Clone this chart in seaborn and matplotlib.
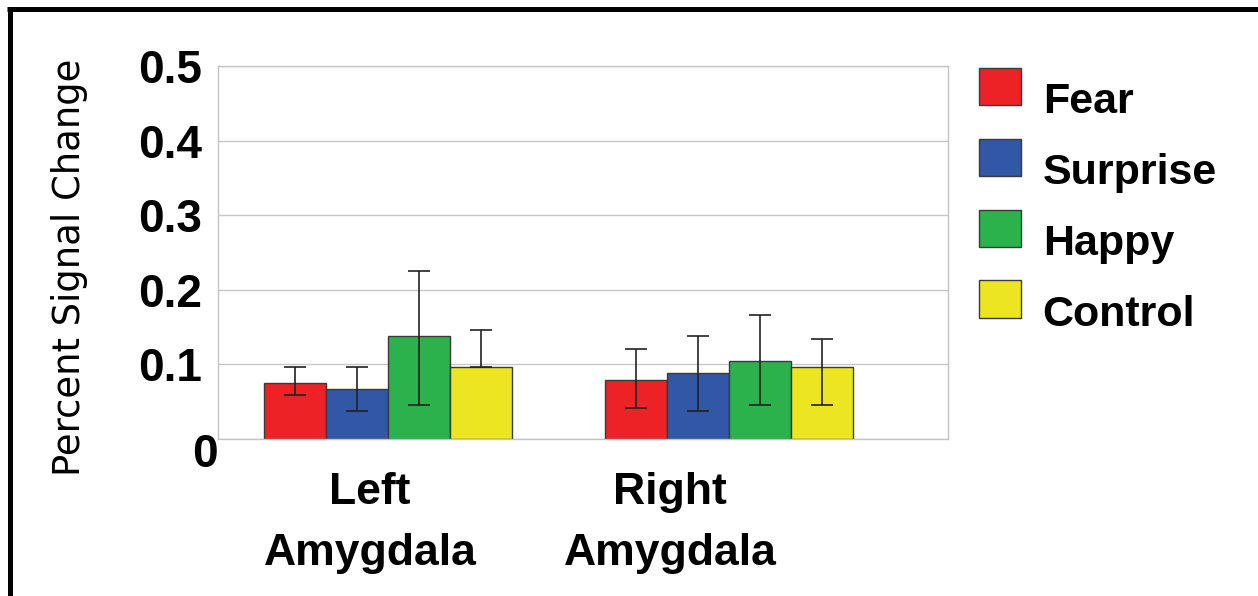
import matplotlib
matplotlib.use("Agg")
import matplotlib.pyplot as plt
import seaborn as sns
import pandas as pd
from matplotlib import font_manager
from matplotlib.lines import Line2D
from matplotlib.patches import Rectangle
from matplotlib.legend_handler import HandlerPatch
from matplotlib.transforms import ScaledTranslation

# ---- data -------------------------------------------------------------
regions = ["Left\nAmygdala", "Right\nAmygdala"]
conditions = ["Fear", "Surprise", "Happy", "Control"]

left_means = [0.075, 0.067, 0.138, 0.096]
right_means = [0.079, 0.088, 0.104, 0.096]

# error extents below / above each mean
left_err_low = [0.016, 0.029, 0.092, 0.0]
left_err_high = [0.021, 0.029, 0.087, 0.050]
right_err_low = [0.037, 0.050, 0.059, 0.050]
right_err_high = [0.041, 0.050, 0.062, 0.038]

y_ticks = [0, 0.1, 0.2, 0.3, 0.4, 0.5]
y_tick_labels = ["0", "0.1", "0.2", "0.3", "0.4", "0.5"]

colors = ["#ec2227", "#3157a6", "#2bb24c", "#ebe621"]

# ---- fonts ------------------------------------------------------------
def pick(families):
    for fam in families:
        try:
            font_manager.findfont(font_manager.FontProperties(family=fam),
                                  fallback_to_default=False)
            return fam
        except Exception:
            continue
    return "DejaVu Sans"

narrow = pick(["Liberation Sans Narrow", "Liberation Sans"])
sans = pick(["Liberation Sans", "DejaVu Sans"])

sns.set_theme(style="white")
plt.rcParams["font.family"] = [sans, "DejaVu Sans"]
for key in ("text.color", "axes.labelcolor", "xtick.color", "ytick.color"):
    plt.rcParams[key] = "black"

# ---- frame ------------------------------------------------------------
W, H = 1258, 596
fig = plt.figure(figsize=(W / 100, H / 100), dpi=100, facecolor="white")
ax = fig.add_axes([218 / W, 157 / H, 730 / W, 373 / H])

df = pd.DataFrame({
    "region": [r for r in regions for _ in conditions],
    "condition": conditions * len(regions),
    "value": left_means + right_means,
})

sns.barplot(data=df, x="region", y="value", hue="condition",
            order=regions, hue_order=conditions, palette=colors,
            saturation=1, width=0.727, errorbar=None,
            edgecolor="#3a3a3a", linewidth=1.0, ax=ax, zorder=2)

# error bars on each bar centre
err_low = [[left_err_low[k], right_err_low[k]] for k in range(len(conditions))]
err_high = [[left_err_high[k], right_err_high[k]] for k in range(len(conditions))]
bar_groups = list(ax.containers)
for k, cont in enumerate(bar_groups):
    xs = [b.get_x() + b.get_width() / 2 for b in cont]
    ys = [b.get_height() for b in cont]
    ax.errorbar(xs, ys, yerr=[err_low[k], err_high[k]], fmt="none",
                ecolor="#222222", elinewidth=1.2, capsize=8, capthick=1.2,
                zorder=3)

# axes styling
ax.set_ylim(0, 0.5)
ax.set_xlim(-0.4985, 1.642)
ax.set_yticks(y_ticks)
ax.set_yticklabels(y_tick_labels)
ax.set_axisbelow(True)
ax.yaxis.grid(True, color="#c8c8c8", linewidth=1.0)
ax.xaxis.grid(False)
for sp in ax.spines.values():
    sp.set_visible(True)
    sp.set_color("#c4c4c4")
    sp.set_linewidth(1.0)

ax.tick_params(axis="both", length=0)
ax.tick_params(axis="y", pad=11.5)
ax.tick_params(axis="x", pad=24)
for lab in ax.get_yticklabels():
    lab.set_fontfamily(sans)
    lab.set_fontweight("bold")
    lab.set_fontsize(33)
for lab in ax.get_xticklabels():
    lab.set_fontfamily(narrow)
    lab.set_fontweight("bold")
    lab.set_fontsize(32)
    lab.set_linespacing(1.6)

# category labels sit left of their bar groups
x_shift_px = [-18, -59]
for tick, dx in zip(ax.xaxis.get_major_ticks(), x_shift_px):
    lab = tick.label1
    lab.set_transform(lab.get_transform() +
                      ScaledTranslation(dx / 100, 0, fig.dpi_scale_trans))

# the zero label sits a little lower and further right
zero = ax.yaxis.get_major_ticks()[0].label1
zero.set_transform(zero.get_transform() +
                   ScaledTranslation(16 / 100, -11 / 100, fig.dpi_scale_trans))

ax.set_xlabel("")
ax.set_ylabel("Percent Signal Change", fontsize=26.6, family="DejaVu Sans",
              color="black")
ax.yaxis.set_label_coords(-0.1785, 0.461)

# legend to the right of the plot, swatches raised above the baseline
lift = 8.6


def raised_box(legend, orig_handle, xdescent, ydescent, width, height,
               fontsize):
    return Rectangle((-xdescent, -ydescent + lift), width, height)


handles, labels = ax.get_legend_handles_labels()
handles, labels = handles[:len(conditions)], labels[:len(conditions)]
if ax.get_legend() is not None:
    ax.get_legend().remove()
leg = fig.legend(handles, labels, loc="upper left",
                 bbox_to_anchor=(979 / W, 1 - 80 / H),
                 frameon=False, borderpad=0, borderaxespad=0,
                 prop={"family": sans, "weight": "bold", "size": 31},
                 handlelength=0.98, handleheight=0.95,
                 handletextpad=0.5, labelspacing=0.66,
                 handler_map={h: HandlerPatch(patch_func=raised_box)
                              for h in handles})
for p in leg.get_patches():
    p.set_edgecolor("#3a3a3a")
    p.set_linewidth(1.0)

# thick black border on the left and top edges
fig.add_artist(Line2D([9.5 / W, 9.5 / W], [0, 1 - 7 / H],
                      transform=fig.transFigure, color="black", lw=3.6,
                      solid_capstyle="butt"))
fig.add_artist(Line2D([7 / W, 1], [1 - 9 / H, 1 - 9 / H],
                      transform=fig.transFigure, color="black", lw=3.6,
                      solid_capstyle="butt"))

fig.savefig("out.png", dpi=100, facecolor="white")
